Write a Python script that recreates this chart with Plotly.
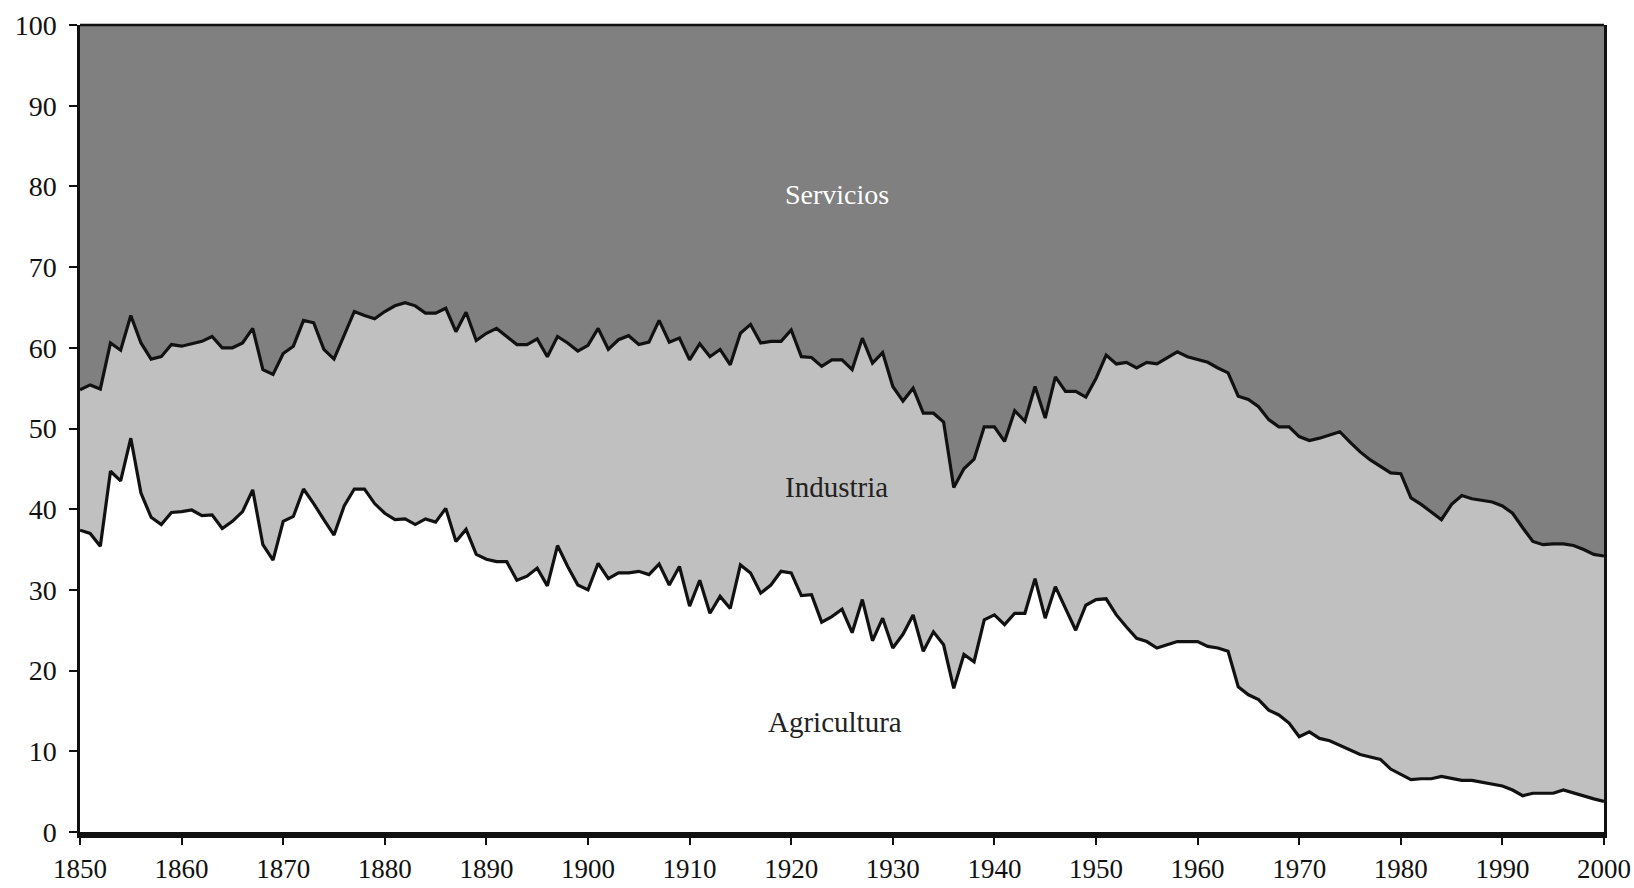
import plotly.graph_objects as go

# Years (x categories)
anios = list(range(1850, 2001))

# Agricultura share (%), read from the lower boundary
agricultura = [
    37.4, 37.0, 35.4, 44.7, 43.5, 48.8, 42.0, 39.0, 38.1, 39.6,   # 1850-1859
    39.7, 39.9, 39.2, 39.3, 37.6, 38.5, 39.7, 42.4, 35.6, 33.7,   # 1860-1869
    38.5, 39.1, 42.5, 40.7, 38.7, 36.8, 40.4, 42.5, 42.5, 40.7,   # 1870-1879
    39.5, 38.7, 38.8, 38.1, 38.8, 38.4, 40.1, 36.0, 37.5, 34.4,   # 1880-1889
    33.8, 33.5, 33.5, 31.2, 31.7, 32.7, 30.5, 35.5, 32.9, 30.6,   # 1890-1899
    30.0, 33.3, 31.4, 32.1, 32.1, 32.3, 31.9, 33.2, 30.6, 32.9,   # 1900-1909
    28.0, 31.2, 27.1, 29.2, 27.7, 33.1, 32.1, 29.6, 30.6, 32.3,   # 1910-1919
    32.1, 29.3, 29.4, 26.0, 26.7, 27.6, 24.7, 28.8, 23.7, 26.5,   # 1920-1929
    22.8, 24.5, 26.9, 22.4, 24.8, 23.2, 17.8, 22.0, 21.1, 26.3,   # 1930-1939
    26.9, 25.7, 27.1, 27.1, 31.4, 26.5, 30.4, 27.7, 25.0, 28.1,   # 1940-1949
    28.8, 28.9, 26.9, 25.4, 24.0, 23.6, 22.8, 23.2, 23.6, 23.6,   # 1950-1959
    23.6, 23.0, 22.8, 22.4, 18.0, 17.0, 16.4, 15.1, 14.5, 13.5,   # 1960-1969
    11.8, 12.4, 11.6, 11.3, 10.7, 10.2, 9.6, 9.3, 9.0, 7.8,       # 1970-1979
    7.1, 6.5, 6.6, 6.6, 6.9, 6.6, 6.4, 6.4, 6.2, 5.9,             # 1980-1989
    5.7, 5.2, 4.5, 4.8, 4.8, 4.8, 5.2, 4.8, 4.4, 4.1,             # 1990-1999
    3.8,                                                          # 2000
]

# Agricultura + Industria (upper boundary of the Industria band)
agri_mas_industria = [
    54.8, 55.4, 54.9, 60.6, 59.7, 64.0, 60.6, 58.6, 58.9, 60.4,   # 1850-1859
    60.2, 60.5, 60.8, 61.4, 60.0, 60.0, 60.6, 62.4, 57.3, 56.7,   # 1860-1869
    59.3, 60.2, 63.4, 63.1, 59.8, 58.6, 61.5, 64.5, 64.0, 63.6,   # 1870-1879
    64.5, 65.2, 65.6, 65.2, 64.3, 64.3, 64.9, 62.0, 64.4, 60.9,   # 1880-1889
    61.8, 62.4, 61.4, 60.4, 60.4, 61.1, 58.9, 61.4, 60.6, 59.6,   # 1890-1899
    60.3, 62.4, 59.8, 61.0, 61.5, 60.4, 60.7, 63.4, 60.7, 61.2,   # 1900-1909
    58.5, 60.5, 58.9, 59.8, 57.9, 61.8, 62.9, 60.6, 60.8, 60.8,   # 1910-1919
    62.2, 58.9, 58.8, 57.7, 58.5, 58.5, 57.3, 61.2, 58.1, 59.4,   # 1920-1929
    55.2, 53.4, 55.0, 51.9, 51.9, 50.8, 42.7, 45.0, 46.2, 50.2,   # 1930-1939
    50.2, 48.4, 52.2, 50.9, 55.2, 51.3, 56.4, 54.6, 54.6, 53.9,   # 1940-1949
    56.2, 59.1, 58.0, 58.2, 57.5, 58.2, 58.0, 58.7, 59.5, 58.9,   # 1950-1959
    58.6, 58.2, 57.5, 56.9, 54.0, 53.6, 52.7, 51.1, 50.2, 50.2,   # 1960-1969
    49.0, 48.5, 48.8, 49.2, 49.6, 48.3, 47.1, 46.1, 45.3, 44.5,   # 1970-1979
    44.4, 41.4, 40.6, 39.7, 38.7, 40.6, 41.7, 41.3, 41.1, 40.9,   # 1980-1989
    40.4, 39.5, 37.7, 36.0, 35.6, 35.7, 35.7, 35.5, 35.0, 34.4,   # 1990-1999
    34.2,                                                         # 2000
]

industria = [round(t - a, 2) for t, a in zip(agri_mas_industria, agricultura)]
servicios = [round(100 - t, 2) for t in agri_mas_industria]

tick_years = [1850, 1860, 1870, 1880, 1890, 1900, 1910, 1920, 1930, 1940,
              1950, 1960, 1970, 1980, 1990, 2000]
tick_vals_y = [0, 10, 20, 30, 40, 50, 60, 70, 80, 90, 100]

FONT = "Liberation Serif"

fig = go.Figure()
fig.add_trace(go.Scatter(
    x=anios, y=agricultura, name="Agricultura", stackgroup="one",
    mode="lines", line=dict(color="#111111", width=3.2), fillcolor="#ffffff",
))
fig.add_trace(go.Scatter(
    x=anios, y=industria, name="Industria", stackgroup="one",
    mode="lines", line=dict(color="#111111", width=3.2), fillcolor="#c0c0c0",
))
fig.add_trace(go.Scatter(
    x=anios, y=servicios, name="Servicios", stackgroup="one",
    mode="lines", line=dict(color="#808080", width=0), fillcolor="#808080",
))

# top border line of plot area
fig.add_shape(type="line", xref="paper", yref="paper", x0=0, x1=1, y0=1, y1=1,
              line=dict(color="#111111", width=2.5), layer="above")

fig.add_annotation(x=1924.5, y=79, text="Servicios", showarrow=False,
                   font=dict(family=FONT, size=28, color="#ffffff"))
fig.add_annotation(x=1924.5, y=42.8, text="Industria", showarrow=False,
                   font=dict(family=FONT, size=29, color="#222222"))
fig.add_annotation(x=1924.3, y=13.6, text="Agricultura", showarrow=False,
                   font=dict(family=FONT, size=29, color="#222222"))

fig.update_layout(
    width=1634, height=888,
    margin=dict(l=80, r=30, t=25, b=56),
    paper_bgcolor="#ffffff", plot_bgcolor="#ffffff",
    showlegend=False,
    font=dict(family=FONT, size=28, color="#111111"),
    xaxis=dict(
        range=[1850, 2000], tickvals=tick_years, ticktext=[str(t) for t in tick_years],
        showgrid=False, zeroline=False, automargin=False,
        showline=True, linecolor="#111111", linewidth=6,
        ticks="outside", ticklen=7, tickwidth=2, tickcolor="#111111",
        tickfont=dict(family=FONT, size=27, color="#111111"),
        ticklabelstandoff=1,
    ),
    yaxis=dict(
        range=[0, 100], tickvals=tick_vals_y,
        showgrid=False, zeroline=False, automargin=False,
        showline=True, linecolor="#111111", linewidth=2.5, mirror=True,
        ticks="outside", ticklen=8, tickwidth=2, tickcolor="#111111",
        tickfont=dict(family=FONT, size=28, color="#111111"),
        ticklabelstandoff=7,
    ),
)

fig.write_html("out.html", config={"displayModeBar": False},
               post_script="document.body.style.margin='0';")
